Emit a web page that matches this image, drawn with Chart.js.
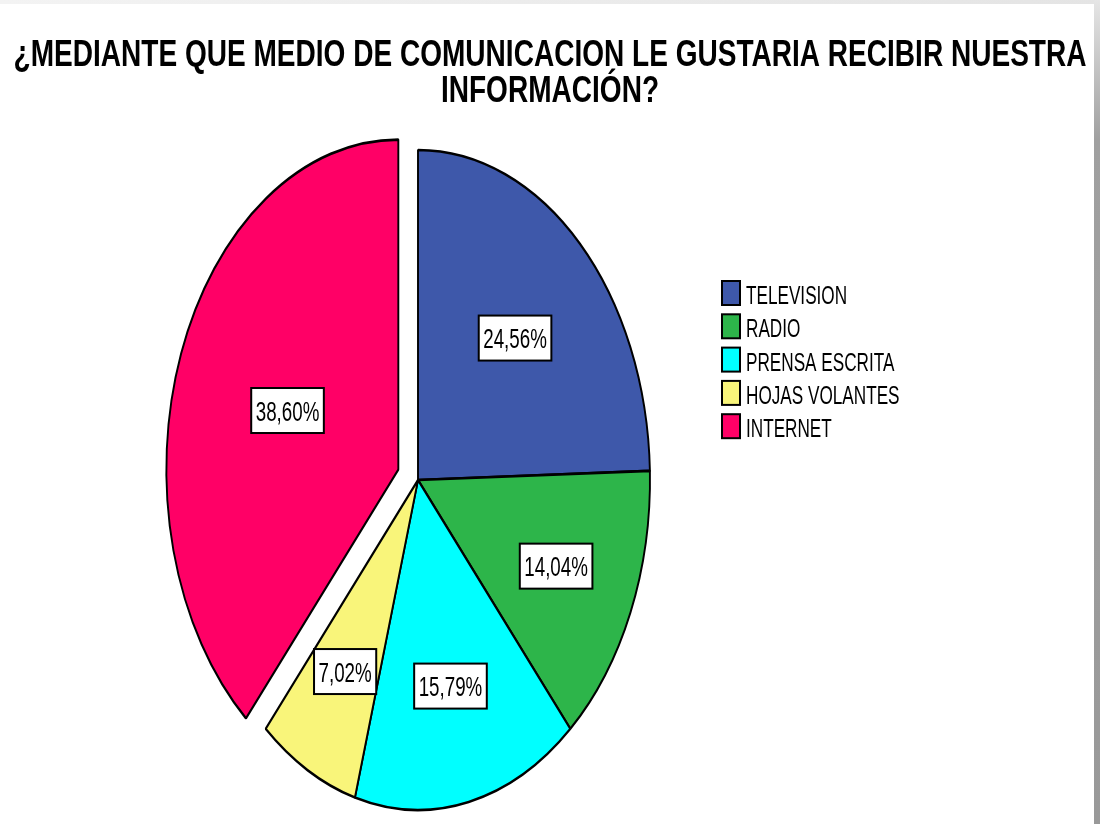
<!DOCTYPE html>
<html>
<head>
<meta charset="utf-8">
<script src="https://cdn.jsdelivr.net/npm/chart.js@4/dist/chart.umd.min.js"></script>
<style>
  html, body { margin: 0; padding: 0; background: #ffffff; }
  #wrap { position: relative; width: 1100px; height: 824px; overflow: hidden; background: #ffffff; }
  #frameTop { position: absolute; left: 0; top: 0; width: 1100px; height: 4px;
    background: linear-gradient(to right, #f3f3f3, #e4e4e4); }
  #frameRight { position: absolute; left: 1094px; top: 0; width: 6px; height: 824px;
    background: linear-gradient(to bottom, #e6e6e6 0px, #a0a0a0 140px, #999999 824px); }
  canvas { position: absolute; left: 0; top: 0; }
</style>
</head>
<body>
<div id="wrap">
  <div id="frameTop"></div>
  <div id="frameRight"></div>
  <canvas id="c" width="1100" height="824"></canvas>
</div>
<script>
// ---- data ----
const titleLines = ['¿MEDIANTE QUE MEDIO DE COMUNICACION LE GUSTARIA RECIBIR NUESTRA', 'INFORMACIÓN?'];
const categories = ['TELEVISION', 'RADIO', 'PRENSA ESCRITA', 'HOJAS VOLANTES', 'INTERNET'];
const percentages = [24.56, 14.04, 15.79, 7.02, 38.60];
const sliceColors = ['#3e58aa', '#2db54a', '#00ffff', '#f9f57a', '#ff0066'];
const explodedSlices = [false, false, false, false, true];

// ---- style / layout constants ----
const FONT = '"Liberation Sans", Arial, sans-serif';
const RADIUS_X = 232;          // horizontal radius of the pie
const SCALE_Y = 330 / 232;     // pie is drawn as a vertical ellipse
const EXPLODE_DIST = 21;
const labelRadius = [0.60, 0.65, 0.64, 0.66, 0.51];

const ellipsePlugin = {
  id: 'ellipse',
  afterDatasetsUpdate(chart) {
    const meta = chart.getDatasetMeta(0);
    meta.data.forEach((arc, i) => {
      if (explodedSlices[i]) {
        const mid = (arc.startAngle + arc.endAngle) / 2;
        arc.x += Math.cos(mid) * EXPLODE_DIST;
        arc.y += Math.sin(mid) * EXPLODE_DIST;
      }
    });
  },
  beforeDatasetsDraw(chart) {
    const a = chart.chartArea;
    const cx = (a.left + a.right) / 2, cy = (a.top + a.bottom) / 2;
    const ctx = chart.ctx;
    ctx.save();
    ctx.translate(cx, cy);
    ctx.scale(1, SCALE_Y);
    ctx.translate(-cx, -cy);
  },
  afterDatasetsDraw(chart) {
    chart.ctx.restore();
  },
  afterDraw(chart) {
    const ctx = chart.ctx;
    const a = chart.chartArea;
    const cy = (a.top + a.bottom) / 2;
    const meta = chart.getDatasetMeta(0);

    // title (condensed bold, fitted to the reference line width)
    ctx.save();
    ctx.fillStyle = '#000';
    ctx.textAlign = 'center';
    ctx.textBaseline = 'alphabetic';
    ctx.font = 'bold 37px ' + FONT;
    const tsx = 1073 / ctx.measureText(titleLines[0]).width;
    [[titleLines[0], 66], [titleLines[1], 102]].forEach(([t, y]) => {
      ctx.save();
      ctx.translate(550, y);
      ctx.scale(tsx, 1);
      ctx.fillText(t, 0, 0);
      ctx.restore();
    });
    ctx.restore();

    // value labels
    meta.data.forEach((arc, i) => {
      const mid = (arc.startAngle + arc.endAngle) / 2;
      const r = arc.outerRadius * labelRadius[i];
      const px = arc.x + Math.cos(mid) * r;
      const py = cy + (arc.y + Math.sin(mid) * r - cy) * SCALE_Y;
      const txt = percentages[i].toFixed(2).replace('.', ',') + '%';
      ctx.save();
      ctx.font = '28px ' + FONT;
      const sx = 0.67;
      const tw = ctx.measureText(txt).width * sx;
      const bw = tw + 9, bh = 45;
      ctx.fillStyle = '#fff';
      ctx.fillRect(px - bw / 2, py - bh / 2, bw, bh);
      ctx.lineWidth = 2;
      ctx.strokeStyle = '#000';
      ctx.strokeRect(px - bw / 2, py - bh / 2, bw, bh);
      ctx.fillStyle = '#000';
      ctx.textBaseline = 'alphabetic';
      ctx.textAlign = 'center';
      ctx.translate(px, py + 10);
      ctx.scale(sx, 1);
      ctx.fillText(txt, 0, 0);
      ctx.restore();
    });

    // legend
    const lx = 722, ly = 281, pitch = 33.3;
    categories.forEach((name, i) => {
      const top = ly + i * pitch;
      ctx.save();
      ctx.fillStyle = sliceColors[i];
      ctx.fillRect(lx, top, 18, 24);
      ctx.lineWidth = 2;
      ctx.strokeStyle = '#000';
      ctx.strokeRect(lx, top, 18, 24);
      ctx.fillStyle = '#000';
      ctx.font = '26px ' + FONT;
      ctx.textBaseline = 'alphabetic';
      ctx.textAlign = 'left';
      ctx.translate(lx + 24, top + 23);
      ctx.scale(0.66, 1);
      ctx.fillText(name, 0, 0);
      ctx.restore();
    });
  }
};

new Chart(document.getElementById('c'), {
  type: 'pie',
  data: {
    labels: categories,
    datasets: [{
      data: percentages,
      backgroundColor: sliceColors,
      borderColor: '#000000',
      borderWidth: 1.9,
      radius: RADIUS_X
    }]
  },
  options: {
    responsive: false,
    animation: false,
    devicePixelRatio: 1,
    layout: { padding: { left: 0, right: 264, top: 136, bottom: 0 } },
    plugins: {
      legend: { display: false },
      title: { display: false },
      tooltip: { enabled: false }
    }
  },
  plugins: [ellipsePlugin]
});
</script>
</body>
</html>
